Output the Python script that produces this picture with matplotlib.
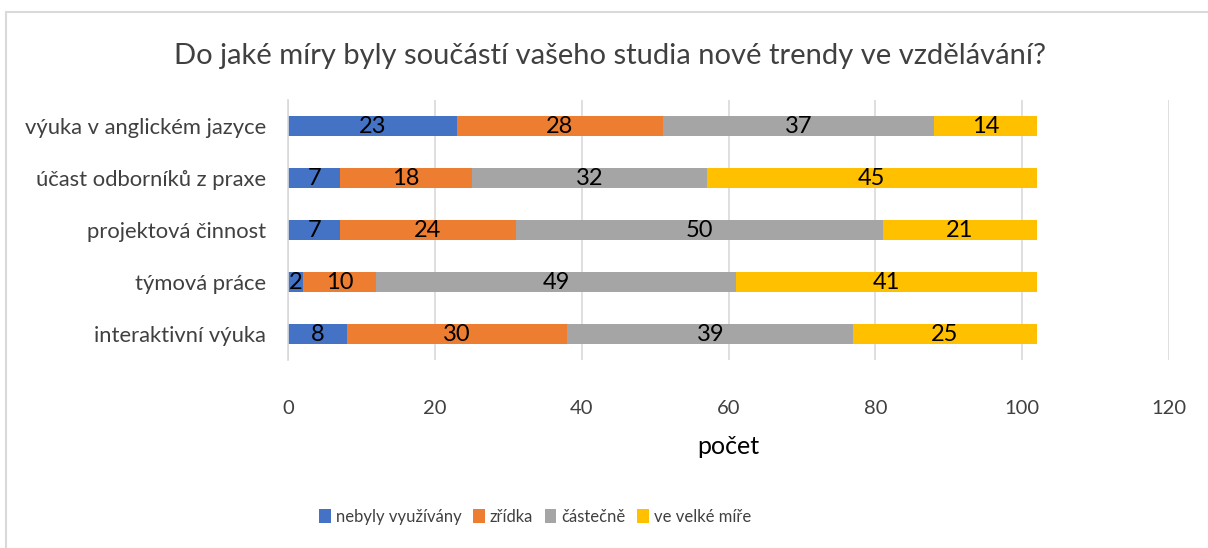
import matplotlib
matplotlib.use("Agg")
import matplotlib.pyplot as plt
from matplotlib.patches import Rectangle
import numpy as np

# Data
categories = ['interaktivní výuka', 'týmová práce', 'projektová činnost',
              'účast odborníků z praxe', 'výuka v anglickém jazyce']
series_names = ['nebyly využívány', 'zřídka', 'částečně', 've velké míře']
nebyly = [8, 2, 7, 7, 23]
zridka = [30, 10, 24, 18, 28]
castecne = [39, 49, 50, 32, 37]
velke = [25, 41, 21, 45, 14]
colors = ['#4472C4', '#ED7D31', '#A5A5A5', '#FFC000']
xticks = [0, 20, 40, 60, 80, 100, 120]

plt.rcParams['font.family'] = ['Lato', 'DejaVu Sans']
text_col = '#404040'

fig = plt.figure(figsize=(12.08, 5.48), dpi=100)
ax = fig.add_axes([0.2388, 0.343, 0.7287, 0.4745])

# chart border (only top and left visible in the crop)
fig.patches.append(Rectangle((6 / 1208, -0.1), 1.2, 1 - 12 / 548 + 0.1,
                             transform=fig.transFigure, fill=False,
                             edgecolor='#D9D9D9', linewidth=1.5))

y = np.arange(len(categories))
left = np.zeros(len(categories))
for name, vals, col in zip(series_names, [nebyly, zridka, castecne, velke], colors):
    vals = np.array(vals)
    bars = ax.barh(y, vals, left=left, height=0.4, color=col, label=name, zorder=3)
    for b, v in zip(bars, vals):
        ax.text(b.get_x() + b.get_width() / 2, b.get_y() + b.get_height() / 2, str(v),
                ha='center', va='center', fontsize=17, color='black', zorder=4)
    left += vals

ax.set_xlim(0, 120)
ax.set_ylim(-0.5, len(categories) - 0.5)
ax.set_xticks(xticks)
ax.set_yticks(y)
ax.set_yticklabels(categories)
ax.tick_params(axis='x', length=0, pad=29, labelsize=14.5, labelcolor=text_col)
ax.tick_params(axis='y', length=0, pad=16, labelsize=15.8, labelcolor=text_col)
ax.grid(axis='x', color='#D9D9D9', linewidth=1.2, zorder=0)
for s in ['top', 'right', 'bottom']:
    ax.spines[s].set_visible(False)
ax.spines['left'].set_color('#D9D9D9')
ax.spines['left'].set_linewidth(1.2)
ax.spines['left'].set_zorder(5)

ax.set_xlabel('počet', fontsize=18, color='black', labelpad=13)

fig.text(0.505, 1 - 56 / 548, 'Do jaké míry byly součástí vašeho studia nové trendy ve vzdělávání?',
         ha='center', va='center', fontsize=21, color=text_col)

fig.legend(loc='center', bbox_to_anchor=(0.443, 1 - 517 / 548), ncol=4, frameon=False,
           fontsize=12, handlelength=0.7, handleheight=0.9, handletextpad=0.3,
           columnspacing=0.7, labelcolor=text_col)

fig.savefig('out.png', dpi=100)
